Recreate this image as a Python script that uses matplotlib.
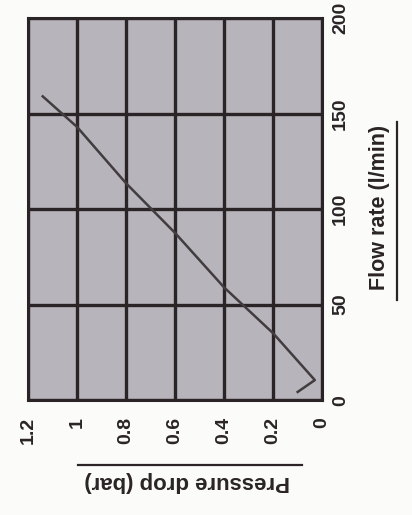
import matplotlib
matplotlib.use('Agg')
import matplotlib.pyplot as plt
from matplotlib.lines import Line2D

flow_rate = [159, 143, 113.5, 87.5, 59, 35, 10.5, 4.3]          # l/min
pressure_drop = [1.14, 1.0, 0.80, 0.60, 0.40, 0.20, 0.03, 0.10]  # bar

flow_ticks = [0, 50, 100, 150, 200]
pressure_ticks = [1.2, 1.0, 0.8, 0.6, 0.4, 0.2, 0]
pressure_labels = ['1.2', '1', '0.8', '0.6', '0.4', '0.2', '0']

plt.rcParams['font.family'] = ['Liberation Sans', 'DejaVu Sans']
ink = '#2a2426'

fig = plt.figure(figsize=(4.12, 5.15), dpi=100)
fig.patch.set_facecolor('#fbfbfa')
ax = fig.add_axes([0.068, 0.223, 0.714, 0.742])
ax.set_facecolor('#b7b4bb')

ax.plot(pressure_drop, flow_rate, color='#423c3f', lw=1.8)

ax.set_xlim(1.2, 0)
ax.set_ylim(0, 200)
ax.set_xticks(pressure_ticks)
ax.set_xticklabels(pressure_labels, rotation=90, fontsize=14, fontweight='bold', color=ink)
ax.set_yticks(flow_ticks)
ax.set_yticklabels([str(v) for v in flow_ticks], rotation=90, fontsize=14,
                   fontweight='bold', color=ink, va='center')
ax.yaxis.tick_right()
ax.tick_params(axis='x', length=0, pad=12)
ax.tick_params(axis='y', length=0, pad=7)
ax.grid(True, color=ink, lw=2.4)
for s in ax.spines.values():
    s.set_color(ink)
    s.set_linewidth(2.2)

# axis titles, drawn rotated like the scanned original
fig.text(0.92, 0.597, 'Flow rate (l/min)', rotation=90, ha='center', va='center',
         fontsize=15.5, fontweight='bold', color=ink)
fig.add_artist(Line2D([0.963, 0.963], [0.418, 0.763], color=ink, lw=1.6))
fig.text(0.455, 0.066, 'Pressure drop (bar)', rotation=180, ha='center', va='center',
         fontsize=16, fontweight='bold', color=ink)
fig.add_artist(Line2D([0.19, 0.733], [0.097, 0.097], color=ink, lw=1.6))

fig.savefig('out.png', dpi=100, facecolor=fig.get_facecolor())
